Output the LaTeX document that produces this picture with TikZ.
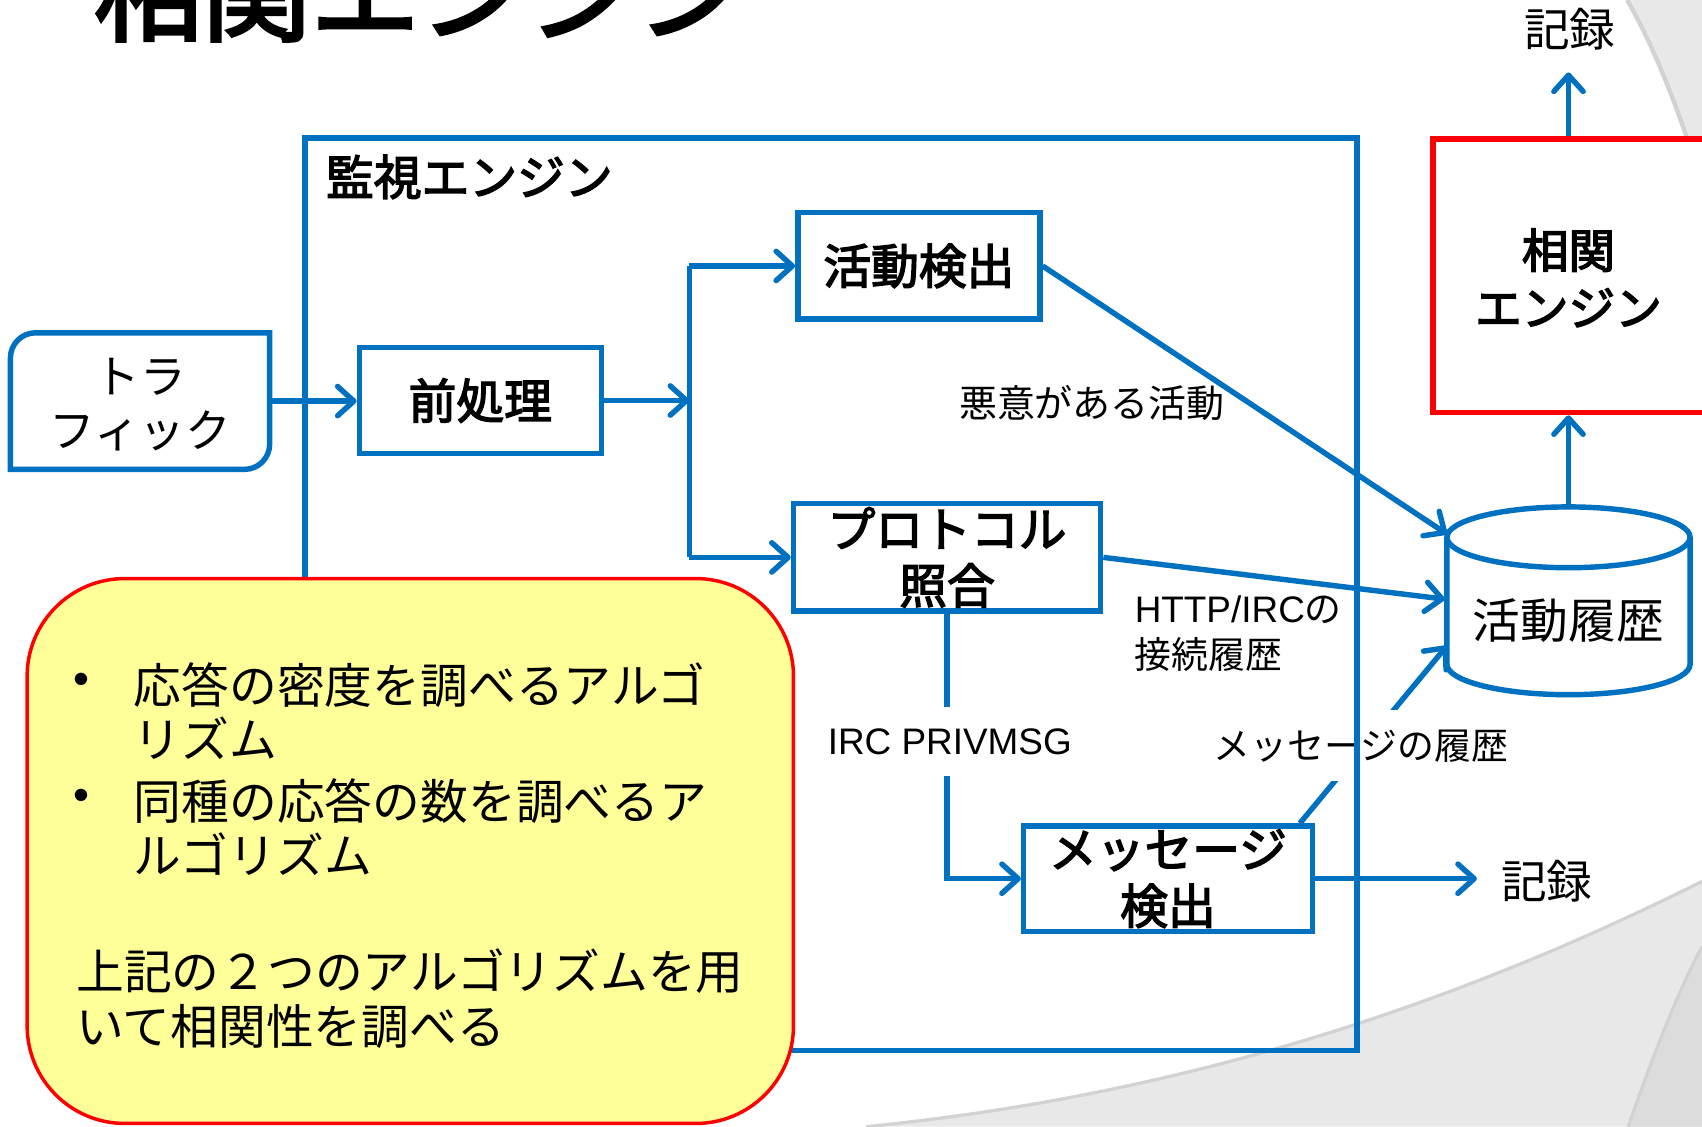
\documentclass[tikz,border=0pt]{standalone}
\usepackage{fontspec}
\setmainfont{Liberation Sans}
\newfontfamily\jp{Noto Sans CJK JP}
\newfontfamily\jpm{Noto Sans CJK JP}[FakeBold=3]
\usetikzlibrary{arrows.meta,calc}
\definecolor{pblue}{HTML}{0070C0}
\definecolor{pred}{HTML}{FF0000}
\definecolor{pyellow}{HTML}{FFFF99}
\definecolor{bgA}{HTML}{E8E8E8}
\definecolor{bgB}{HTML}{DCDCDC}
\definecolor{bgEdge}{HTML}{D2D2D2}
\begin{document}
\begin{tikzpicture}[x=0.5pt,y=-0.5pt,
  conn/.style={draw=pblue,line width=2.5pt},
  arr/.style={conn,-{Straight Barb[length=7.5pt,width=13.5pt,round]}},
  bbox/.style={draw=pblue,line width=2.5pt,fill=white,inner sep=0pt,align=center,
     font=\jpm\fontsize{22pt}{26pt}\selectfont},
  jtxt/.style={inner sep=0pt,align=center,font=\jp\fontsize{21pt}{25pt}\selectfont},
  small/.style={inner sep=0pt,font=\jp\fontsize{17.5pt}{21pt}\selectfont},
  notetxt/.style={anchor=west,align=left,inner sep=0pt,font=\jp\fontsize{22pt}{25pt}\selectfont},
  dot/.style={inner sep=0pt,font=\fontsize{21pt}{25pt}\selectfont}]
\useasboundingbox (0,0) rectangle (1568,1038);
\fill[white] (0,0) rectangle (1568,1038);
% background swooshes
\fill[bgA] (798,1038) .. controls (1058,1012) and (1308,942) .. (1568,812) -- (1568,1038) -- cycle;
\draw[bgEdge,line width=1.5pt] (798,1038) .. controls (1058,1012) and (1308,942) .. (1568,812);
\fill[bgB] (1500,1038) .. controls (1522,975) and (1545,915) .. (1568,872) -- (1568,1038) -- cycle;
\draw[bgEdge,line width=1.5pt] (1500,1038) .. controls (1522,975) and (1545,915) .. (1568,872);
\fill[bgA] (1499,0) .. controls (1522,40) and (1545,95) .. (1568,170) -- (1568,0) -- cycle;
\draw[bgEdge,line width=2pt] (1499,0) .. controls (1522,40) and (1545,95) .. (1568,170);
% title
\node[anchor=base west,inner sep=0pt,font=\jpm\fontsize{50pt}{50pt}\selectfont] (title) at (86,30) {相関エンジン};
% boxes
\node[inner sep=0pt,minimum width=119pt,minimum height=62.5pt,align=center,
      font=\jp\fontsize{21pt}{25pt}\selectfont] (traffic) at (129,369.5) {};
\node[jtxt] (traffictext) at (129,373) {トラ\\フィック};
\draw[conn] (traffic.south west) -- ([yshift=-11.5pt]traffic.north west)
   .. controls ([yshift=-5.2pt]traffic.north west) and ([xshift=5.2pt]traffic.north west) ..
   ([xshift=11.5pt]traffic.north west) -- (traffic.north east) -- ([yshift=11.5pt]traffic.south east)
   .. controls ([yshift=5.2pt]traffic.south east) and ([xshift=-5.2pt]traffic.south east) ..
   ([xshift=-11.5pt]traffic.south east) -- cycle;
\node[bbox,minimum width=111.5pt,minimum height=49pt] (pre) at (442.5,369) {前処理};
\node[bbox,minimum width=111.5pt,minimum height=49pt] (act) at (846.5,245) {活動検出};
\node[bbox,minimum width=141.5pt,minimum height=49.5pt] (proto) at (872.5,513.5) {プロトコル\\照合};
\node[bbox,minimum width=133pt,minimum height=48.5pt] (msg) at (1076,809.5) {メッセージ\\検出};
% cylinder
\draw[conn,fill=white] (1333,495) -- (1333,612) arc[start angle=180,end angle=360,x radius=56pt,y radius=14pt]
   -- (1557,495) arc[start angle=0,end angle=180,x radius=56pt,y radius=14pt] -- cycle;
\draw[conn] (1333,495) arc[start angle=180,end angle=360,x radius=56pt,y radius=14pt];
\node[inner sep=0pt,minimum width=112pt,minimum height=86.5pt] (db) at (1445,553.5) {};
\node[jtxt,font=\jp\fontsize{22pt}{25pt}\selectfont] (dbtext) at (1445,572) {活動履歴};
\coordinate (dbA) at (1333,492);
\coordinate (dbB) at (1331,552);
\coordinate (dbC) at (1333,595);
% correlation engine
\node[draw=pred,line width=2.6pt,fill=white,minimum width=135pt,minimum height=126pt,inner sep=0pt] (corr) at (1455,254) {};
\node[inner sep=0pt,align=center,font=\jpm\fontsize{21.5pt}{26.5pt}\selectfont] (corrtext) at (1445,256) {相関\\エンジン};
\node[jtxt] (rec1) at (1446,27) {記録};
\node[jtxt] (rec2) at (1425,812) {記録};
% connectors
\coordinate (jc) at (635,369);
\coordinate (jt) at (635,245);
\coordinate (jb) at (635,513.5);
\draw[arr] (traffic.east) -- (traffic.east -| pre.west);
\draw[arr] (pre.east) -- (jc);
\draw[conn] (jt) -- (jb);
\draw[arr] (jt) -- (act.west);
\draw[arr] (jb) -- (proto.west);
\draw[arr] (act.east) -- (dbA);
\draw[arr] (proto.east) -- (dbB);
\draw[arr] (proto.south) |- (msg.west);
\draw[arr] ([xshift=-7pt]msg.north east) -- (dbC);
\draw[arr,shorten >=11pt] (msg.east) -- (msg.east -| rec2.west);
\draw[arr] (db.north) -- (db.north |- corr.south);
\draw[arr,shorten >=10pt] (corr.north -| db.north) -- (rec1.south -| db.north);
% labels
\node[small] (lblA) at (1006,371) {悪意がある活動};
\node[anchor=west,align=left,inner sep=0pt,font=\fontsize{17pt}{21pt}\selectfont] (lblB) at (1045,584) {HTTP/IRC{\jp の}\\{\jp 接続履歴}};
\node[fill=white,inner xsep=3pt,inner ysep=10pt,font=\fontsize{17pt}{20pt}\selectfont] (lblC) at (875,683) {IRC PRIVMSG};
\node[fill=white,inner xsep=2pt,inner ysep=9pt,font=\jp\fontsize{17pt}{20pt}\selectfont] (lblD) at (1254,687) {メッセージの履歴};
% monitoring engine container
\node[draw=pblue,line width=2.5pt,minimum width=484.5pt,minimum height=420.5pt,inner sep=0pt] (mon) at (765.5,547.5) {};
\node[anchor=west,inner sep=0pt,font=\jpm\fontsize{22pt}{25pt}\selectfont] (montitle) at (300,163) {監視エンジン};
% note
\node[draw=pred,line width=1.6pt,fill=pyellow,rounded corners=45pt,minimum width=353pt,minimum height=251pt,inner sep=0pt] (note) at (378,784) {};
\node[dot] (dot1) at (75,630) {•};
\node[notetxt] (b1) at (123,655) {応答の密度を調べるアルゴ\\リズム};
\node[dot] (dot2) at (75,737) {•};
\node[notetxt] (b2) at (123,762) {同種の応答の数を調べるア\\ルゴリズム};
\node[notetxt] (summ) at (70,920) {上記の２つのアルゴリズムを用\\いて相関性を調べる};
\end{tikzpicture}
\end{document}
